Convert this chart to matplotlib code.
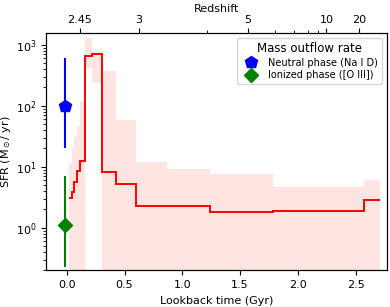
import numpy as np
import matplotlib
matplotlib.use("Agg")
import matplotlib.pyplot as plt
from matplotlib.lines import Line2D

# star formation history, binned in lookback time (Gyr)
BIN_EDGES = [0.022, 0.048, 0.066, 0.086, 0.112, 0.158, 0.219, 0.302,
             0.424, 0.599, 0.865, 1.239, 1.786, 2.57, 2.71]
SFR_BEST = [3.07, 3.8, 5.6, 8.6, 12.6, 667, 720, 8.1,
            5.3, 2.32, 2.30, 1.83, 1.88, 2.81]
SFR_UPPER = [11.7, 20, 31, 46, 118, 1300, 785, 377,
             57.6, 12.2, 9.2, 7.7, 4.7, 6.1]
SFR_LOWER = [0.01, 0.01, 0.01, 0.01, 0.01, 420, 238, 0.01,
             0.01, 0.01, 0.01, 0.01, 0.01, 0.01]

# mass outflow rates
OUTFLOW_T = -0.015
NEUTRAL = (100.0, 20.4, 611.0)   # value, low, high
IONIZED = (1.12, 0.226, 6.95)

Z_OBS = 2.35
Z_TICKS = [2.45, 3, 5, 10, 20]
Z_MINOR = [4, 6, 7, 8, 9]


def age_gyr(z, h0=71.0, om=0.3):
    """Age of a flat LCDM universe at redshift z (Gyr)."""
    ol = 1.0 - om
    t_hubble = 977.8 / h0
    pref = 2.0 / (3.0 * np.sqrt(ol)) * t_hubble
    return pref * np.arcsinh(np.sqrt(ol / om) * (1.0 + np.asarray(z, float)) ** -1.5)


def lookback_from_obs(z):
    return age_gyr(Z_OBS) - age_gyr(z)


fig = plt.figure(figsize=(3.9, 3.07), dpi=100)
ax = fig.add_axes([0.118, 0.119, 0.874, 0.774])

ax.stairs(SFR_UPPER, BIN_EDGES, baseline=SFR_LOWER, fill=True,
          color="salmon", alpha=0.2, linewidth=0)
ax.stairs(SFR_BEST, BIN_EDGES, baseline=None, color="red", linewidth=1.4)

ax.errorbar([OUTFLOW_T], [NEUTRAL[0]],
            yerr=[[NEUTRAL[0] - NEUTRAL[1]], [NEUTRAL[2] - NEUTRAL[0]]],
            fmt="none", ecolor="blue", elinewidth=1.5)
ax.plot([OUTFLOW_T], [NEUTRAL[0]], "p", color="blue", markersize=9)
ax.errorbar([OUTFLOW_T], [IONIZED[0]],
            yerr=[[IONIZED[0] - IONIZED[1]], [IONIZED[2] - IONIZED[0]]],
            fmt="none", ecolor="green", elinewidth=1.5)
ax.plot([OUTFLOW_T], [IONIZED[0]], "D", color="green", markersize=7)

ax.set_yscale("log")
ax.set_xlim(-0.179, 2.77)
ax.set_ylim(0.2, 1570)
ax.set_xticks([0.0, 0.5, 1.0, 1.5, 2.0, 2.5])
ax.set_xlabel("Lookback time (Gyr)", fontsize=8)
ax.set_ylabel(r"SFR (M$_\odot$/ yr)", fontsize=8, labelpad=2)
ax.tick_params(labelsize=8)

handles = [
    Line2D([], [], marker="p", color="blue", linestyle="none", markersize=9),
    Line2D([], [], marker="D", color="green", linestyle="none", markersize=7),
]
leg = ax.legend(handles, ["Neutral phase (Na I D)", "Ionized phase ([O III])"],
                loc="upper right", fontsize=7, title="Mass outflow rate",
                title_fontsize=8.5, handletextpad=0.8, borderpad=0.4,
                labelspacing=0.3)

top = ax.twiny()
top.set_xlim(ax.get_xlim())
top.set_xticks(lookback_from_obs(Z_TICKS))
top.set_xticklabels([str(z) for z in Z_TICKS])
top.set_xticks(lookback_from_obs(Z_MINOR), minor=True)
top.set_xlabel("Redshift", fontsize=8, labelpad=2)
top.tick_params(labelsize=8, pad=2)

fig.savefig("out.png", dpi=100)
